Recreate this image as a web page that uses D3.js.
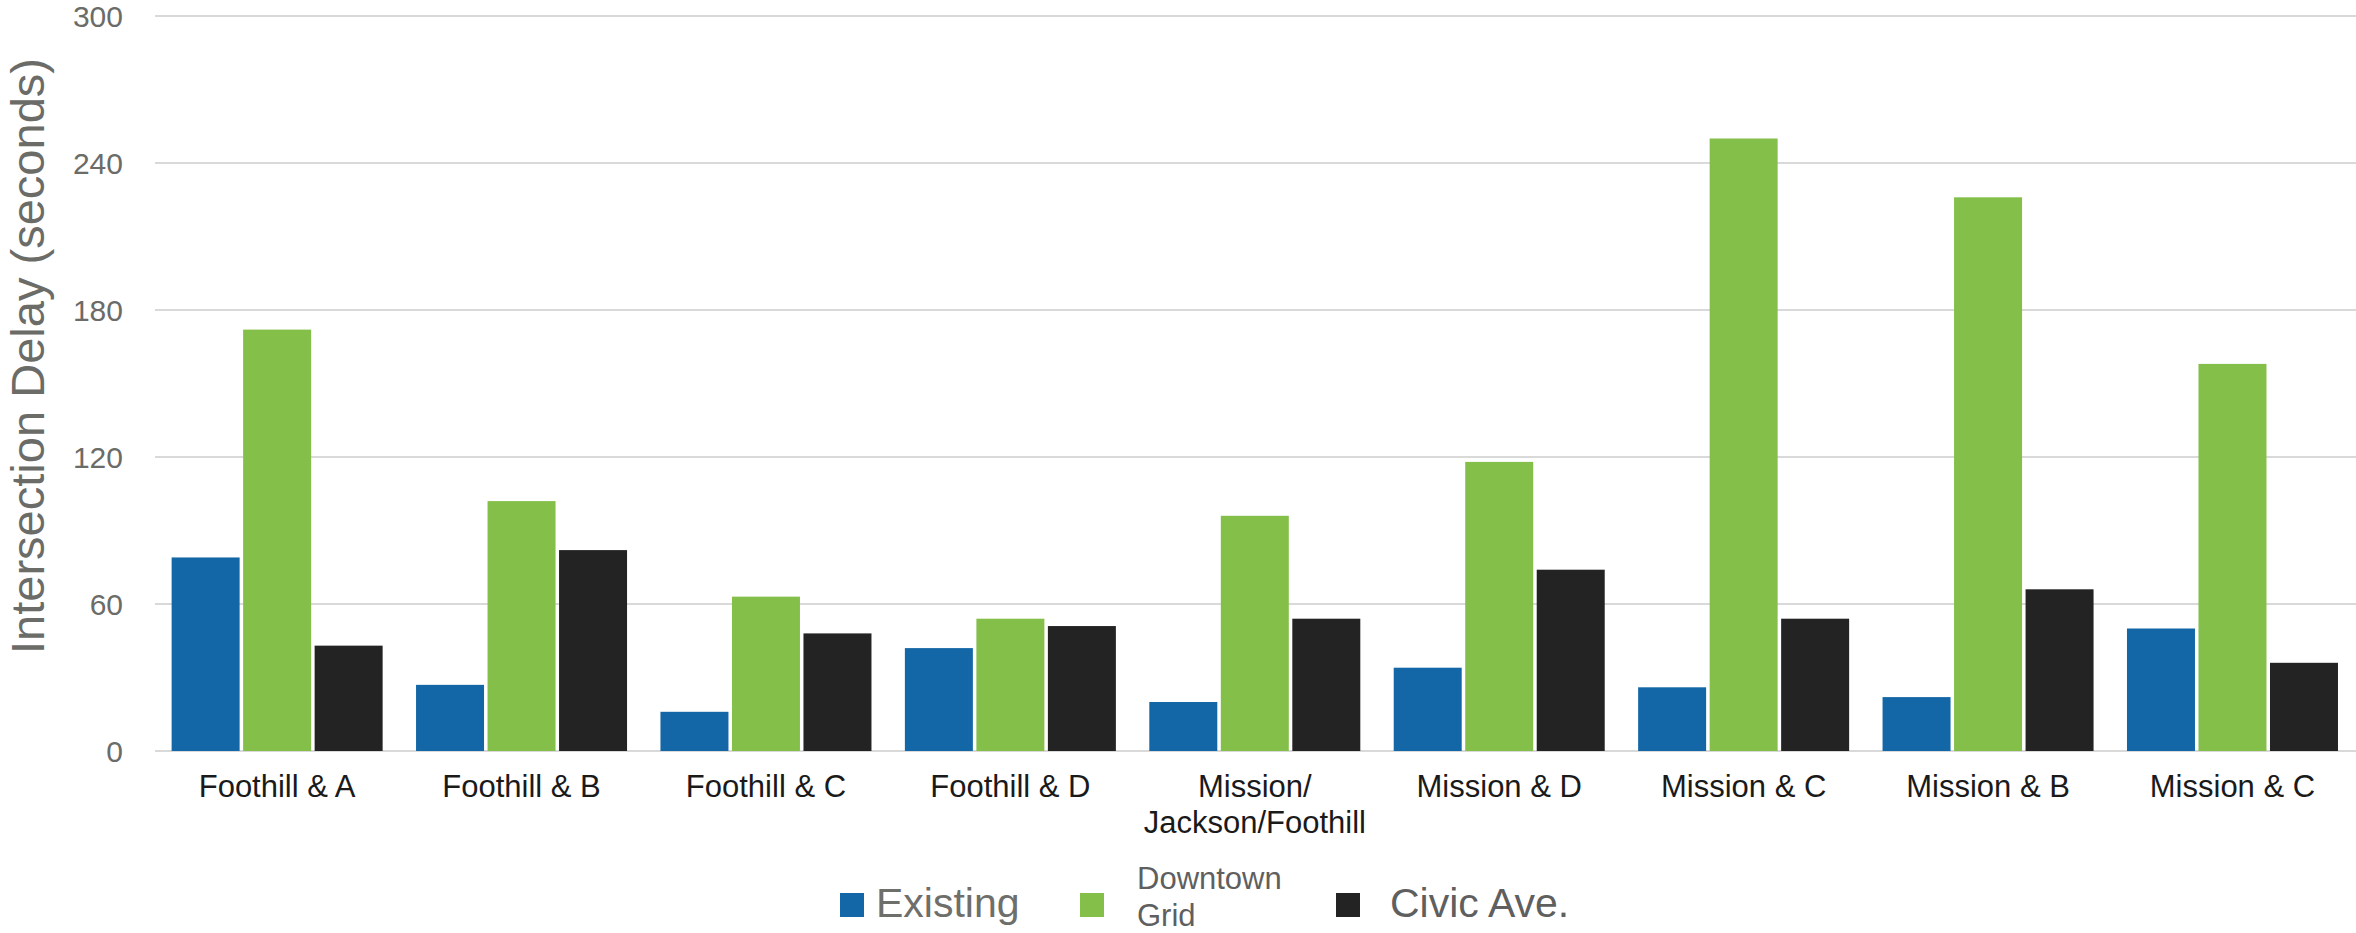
<!DOCTYPE html>
<html>
<head>
<meta charset="utf-8">
<script src="https://cdn.jsdelivr.net/npm/d3@7"></script>
<style>
  body { margin: 0; background: #fff; }
  text { font-family: "Liberation Sans", Arial, sans-serif; }
</style>
</head>
<body>
<svg id="chart" width="2356" height="933"></svg>
<script>
// data
var categories = ["Foothill & A", "Foothill & B", "Foothill & C", "Foothill & D",
    "Mission/\nJackson/Foothill", "Mission & D", "Mission & C", "Mission & B", "Mission & C "];
var seriesNames = ["Existing", "Downtown Grid", "Civic Ave."];
var existing = [79, 27, 16, 42, 20, 34, 26, 22, 50];
var downtownGrid = [172, 102, 63, 54, 96, 118, 250, 226, 158];
var civicAve = [43, 82, 48, 51, 54, 74, 54, 66, 36];
var yTicks = [0, 60, 120, 180, 240, 300];

var colors = ["#1467a7", "#84bf4a", "#232323"];
var seriesValues = [existing, downtownGrid, civicAve];

var svg = d3.select('#chart');

var plot = {l: 155, r: 2356, t: 16, b: 751};

var xScale = d3.scaleBand()
    .domain(d3.range(categories.length))
    .range([plot.l, plot.l + 9 * 244.4])
    .paddingInner(0.1367)
    .paddingOuter(0.068);

var xInner = d3.scaleBand()
    .domain(d3.range(seriesNames.length))
    .range([0, xScale.bandwidth()])
    .paddingInner(0.049);

var yScale = d3.scaleLinear()
    .domain([0, 300])
    .range([plot.b, plot.t]);

// gridlines
svg.append('g').selectAll('line')
    .data(yTicks)
    .enter().append('line')
    .attr('x1', plot.l)
    .attr('x2', plot.r)
    .attr('y1', function(d) { return yScale(d); })
    .attr('y2', function(d) { return yScale(d); })
    .attr('stroke', '#d9d9d9')
    .attr('stroke-width', 2);

// y tick labels
svg.append('g').selectAll('text')
    .data(yTicks)
    .enter().append('text')
    .attr('x', 123)
    .attr('y', function(d) { return yScale(d) + 10.8; })
    .attr('text-anchor', 'end')
    .attr('font-size', 30)
    .attr('fill', '#6b6b68')
    .text(function(d) { return d; });

// y axis title
svg.append('text')
    .attr('transform', 'translate(44,356) rotate(-90)')
    .attr('text-anchor', 'middle')
    .attr('font-size', 47)
    .attr('textLength', 596)
    .attr('lengthAdjust', 'spacingAndGlyphs')
    .attr('fill', '#6b6b68')
    .text('Intersection Delay (seconds)');

// bars
var groups = svg.append('g').selectAll('g')
    .data(categories)
    .enter().append('g')
    .attr('transform', function(d, i) { return 'translate(' + xScale(i) + ',0)'; });

groups.selectAll('rect')
    .data(function(d, i) {
        return seriesValues.map(function(vals, s) { return {s: s, v: vals[i]}; });
    })
    .enter().append('rect')
    .attr('x', function(d) { return xInner(d.s); })
    .attr('width', xInner.bandwidth())
    .attr('y', function(d) { return yScale(d.v); })
    .attr('height', function(d) { return yScale(0) - yScale(d.v); })
    .attr('fill', function(d) { return colors[d.s]; });

// x labels
var xLabels = svg.append('g').selectAll('text')
    .data(categories)
    .enter().append('text')
    .attr('x', function(d, i) { return xScale(i) + xScale.bandwidth() / 2; })
    .attr('y', 797)
    .attr('text-anchor', 'middle')
    .attr('font-size', 31)
    .attr('fill', '#1a1a1a');

xLabels.selectAll('tspan')
    .data(function(d) { return d.trim().split('\n'); })
    .enter().append('tspan')
    .attr('x', function() { return d3.select(this.parentNode).attr('x'); })
    .attr('dy', function(d, i) { return i === 0 ? 0 : 36; })
    .text(function(d) { return d; });

// legend
var legendX = [840, 1080, 1336];
var legend = svg.append('g').selectAll('g')
    .data(seriesNames)
    .enter().append('g')
    .attr('transform', function(d, i) { return 'translate(' + legendX[i] + ',893)'; });

legend.append('rect')
    .attr('width', 24)
    .attr('height', 24)
    .attr('fill', function(d, i) { return colors[i]; });

legend.each(function(d, i) {
    var g = d3.select(this);
    if (d === "Downtown Grid") {
        var t = g.append('text')
            .attr('x', 57)
            .attr('y', -4)
            .attr('font-size', 31)
            .attr('fill', '#5f5f5f');
        t.append('tspan').attr('x', 57).text('Downtown');
        t.append('tspan').attr('x', 57).attr('dy', 37).text('Grid');
    } else {
        g.append('text')
            .attr('x', i === 0 ? 36 : 54)
            .attr('y', 24)
            .attr('font-size', 41)
            .attr('fill', i === 0 ? '#6e6e6a' : '#5f5f5f')
            .text(d);
    }
});
</script>
</body>
</html>
